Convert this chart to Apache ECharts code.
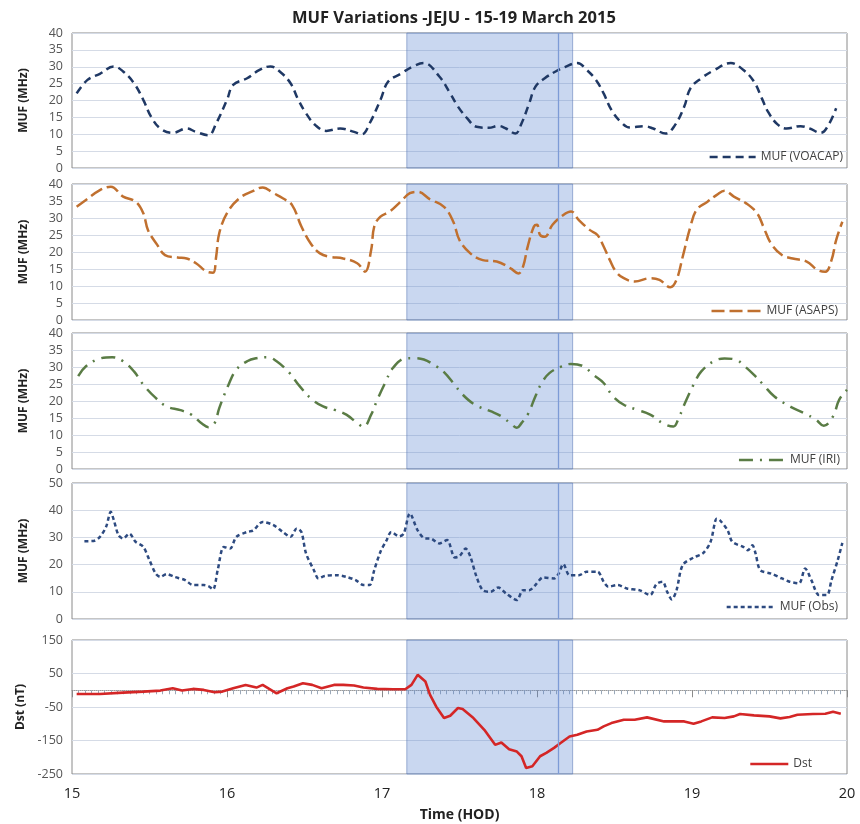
<!DOCTYPE html>
<html>
<head>
<meta charset="utf-8">
<script src="https://cdn.jsdelivr.net/npm/echarts@6/dist/echarts.min.js"></script>
<style>
  html, body { margin: 0; background: #fff; }
  #main { width: 860px; height: 824px; }
</style>
</head>
<body>
<div id="main"></div>
<script>
// time in day-of-month (HOD axis)
const voacapDay = [15.03,15.10,15.18,15.27,15.33,15.40,15.46,15.51,15.57,15.65,15.74,15.80,15.88,15.93,16.00,16.04,16.13,16.21,16.28,16.34,
  16.41,16.46,16.51,16.57,16.64,16.73,16.82,16.87,16.92,16.99,17.04,17.12,17.20,17.27,17.37,17.44,17.49,17.55,17.61,17.69,
  17.75,17.80,17.86,17.90,17.95,17.99,18.05,18.12,18.18,18.26,18.32,18.38,18.43,18.48,18.54,18.60,18.69,18.75,18.83,18.89,
  18.95,18.99,19.06,19.14,19.25,19.33,19.40,19.45,19.49,19.55,19.61,19.70,19.76,19.83,19.88,19.93];
const voacapMuf = [22.1,26.1,27.9,30.1,28.6,25.1,20.2,15.2,11.7,10.4,11.7,10.7,9.7,13.2,20.2,24.6,26.6,29.1,30.1,28.6,
  25.1,20.2,16.2,12.7,11.0,11.7,10.7,10.0,13.2,20.2,25.6,27.9,30.1,31.1,27.1,22.1,18.2,14.7,12.2,11.9,
  12.5,11.7,10.2,13.2,19.2,24.1,26.6,28.6,29.9,31.1,29.1,26.1,22.1,17.2,13.7,12.0,12.4,11.7,10.2,12.7,
  18.2,23.6,26.6,28.9,31.1,29.1,25.6,20.7,16.7,13.0,11.7,12.4,11.7,10.4,12.7,17.7];

const asapsDay = [15.03,15.09,15.18,15.25,15.33,15.41,15.46,15.49,15.55,15.60,15.68,15.74,15.80,15.87,15.91,15.93,15.95,16.00,16.08,16.17,
  16.23,16.30,16.36,16.42,16.48,16.54,16.60,16.66,16.75,16.84,16.89,16.93,16.95,16.99,17.05,17.12,17.18,17.23,17.31,17.40,
  17.46,17.50,17.57,17.65,17.74,17.83,17.88,17.91,17.94,17.98,18.00,18.02,18.05,18.10,18.17,18.22,18.27,18.34,18.39,18.43,
  18.47,18.51,18.56,18.63,18.73,18.79,18.86,18.90,18.94,18.99,19.03,19.10,19.16,19.21,19.27,19.35,19.42,19.46,19.51,19.58,
  19.65,19.74,19.81,19.86,19.90,19.93,19.97];
const asapsMuf = [33.3,35.3,38.2,39.2,36.3,34.8,31.4,26.5,22.1,19.1,18.4,18.1,16.7,14.2,13.9,18.6,25.5,31.4,35.8,38.0,
  39.0,37.3,35.8,33.8,27.5,22.5,19.6,18.6,18.1,16.7,14.2,20.6,27.5,30.4,31.9,34.8,37.3,37.7,35.5,33.3,
  28.9,23.5,19.6,17.6,17.2,15.2,13.7,15.7,21.6,27.5,28.0,25.0,24.5,28.0,30.9,31.9,29.4,26.5,25.0,21.6,
  17.6,14.2,12.3,11.3,12.3,11.8,9.6,11.8,18.6,27.5,32.4,34.8,36.8,38.0,36.3,34.3,31.4,27.5,22.5,19.1,
  18.1,17.2,14.7,14.2,17.6,23.5,28.9];

const iriDay = [15.04,15.09,15.18,15.26,15.33,15.40,15.46,15.54,15.61,15.70,15.77,15.84,15.88,15.92,15.95,16.01,16.06,16.13,16.19,16.26,
  16.32,16.40,16.47,16.55,16.62,16.70,16.77,16.84,16.88,16.93,16.97,17.02,17.07,17.15,17.20,17.27,17.35,17.40,17.46,17.52,
  17.60,17.70,17.77,17.84,17.87,17.90,17.94,17.99,18.03,18.08,18.16,18.22,18.30,18.36,18.43,18.49,18.56,18.64,18.73,18.81,
  18.88,18.91,18.95,19.01,19.06,19.14,19.21,19.28,19.34,19.40,19.46,19.53,19.64,19.72,19.80,19.85,19.91,19.95,20.00];
const iriMuf = [27.3,30.2,32.5,32.9,31.7,28.7,24.8,20.9,18.4,17.3,16.0,13.3,12.3,13.5,17.9,24.8,29.2,31.7,32.6,32.9,
  31.7,28.4,24.3,20.4,18.4,17.3,16.0,13.5,12.4,16.0,20.4,25.3,29.7,32.5,32.6,32.2,30.2,28.5,25.3,21.9,
  18.9,17.0,15.5,13.0,12.1,13.5,16.0,21.4,25.3,28.2,30.2,30.9,30.2,27.8,25.3,21.4,18.9,17.5,16.0,13.5,
  12.5,14.5,18.9,24.8,28.7,31.7,32.5,32.2,30.2,27.7,24.8,21.4,18.2,16.5,14.5,12.7,15.5,20.4,23.3];

const obsDay = [15.08,15.14,15.18,15.22,15.25,15.27,15.30,15.33,15.37,15.41,15.46,15.50,15.54,15.57,15.61,15.66,15.73,15.78,15.85,15.88,
  15.91,15.94,15.98,16.02,16.06,16.13,16.17,16.23,16.30,16.36,16.41,16.45,16.48,16.51,16.56,16.59,16.63,16.71,16.77,16.83,
  16.88,16.92,16.95,16.99,17.03,17.06,17.11,17.14,17.18,17.23,17.28,17.31,17.37,17.42,17.47,17.50,17.54,17.57,17.61,17.65,
  17.70,17.75,17.80,17.87,17.91,17.95,17.99,18.04,18.11,18.14,18.17,18.21,18.27,18.32,18.39,18.43,18.46,18.52,18.58,18.66,
  18.73,18.77,18.81,18.84,18.87,18.90,18.94,19.01,19.07,19.12,19.16,19.18,19.23,19.26,19.33,19.36,19.39,19.41,19.44,19.51,
  19.58,19.63,19.69,19.73,19.77,19.82,19.87,19.90,19.94,19.97];
const obsMuf = [28.6,28.7,30.2,33.9,39.4,36.3,30.8,29.6,31.4,28.4,26.5,21.6,16.7,15.5,16.5,15.5,14.3,12.5,12.5,12.1,
  10.9,18.0,26.5,25.9,30.2,32.0,32.6,35.7,34.5,32.0,30.2,33.3,32.0,24.1,18.0,14.9,15.8,16.1,15.5,14.3,
  12.5,12.5,18.0,24.7,29.0,32.0,30.4,31.4,38.8,32.6,29.6,29.6,27.8,29.0,22.6,23.1,25.9,22.9,15.5,10.6,
  10.0,11.6,9.4,7.0,10.6,10.6,12.5,15.3,14.9,16.7,20.2,16.1,16.1,17.4,17.4,13.7,11.9,12.5,11.2,10.6,
  8.8,12.8,13.7,10.0,7.2,10.6,19.8,22.6,24.1,28.4,36.9,36.3,32.6,28.4,26.5,25.3,27.1,24.1,18.0,16.7,
  14.9,13.7,13.1,18.6,14.3,8.8,8.8,14.3,21.6,28.0];

const dstDay = [15.03,15.18,15.33,15.46,15.57,15.65,15.71,15.78,15.85,15.92,15.97,16.04,16.12,16.19,16.23,16.32,16.39,16.43,16.49,16.55,
  16.61,16.69,16.75,16.82,16.88,16.97,17.07,17.15,17.19,17.23,17.28,17.31,17.35,17.40,17.44,17.49,17.52,17.59,17.66,17.73,
  17.77,17.82,17.87,17.90,17.93,17.97,18.02,18.06,18.11,18.15,18.21,18.26,18.32,18.39,18.43,18.48,18.56,18.63,18.71,18.82,
  18.95,19.01,19.06,19.13,19.21,19.27,19.31,19.40,19.50,19.57,19.63,19.68,19.78,19.86,19.91,19.96];
const dstVal = [-11,-11,-7,-4,-1,6,-1,4,1,-6,-4,6,16,8,16,-9,6,11,21,16,
  6,16,16,14,8,4,3,3,16,46,26,-14,-49,-83,-76,-53,-56,-83,-118,-163,
  -156,-176,-183,-197,-232,-227,-197,-187,-172,-158,-138,-133,-123,-118,-108,-98,-88,-88,-81,-93,
  -93,-100,-93,-81,-83,-78,-71,-75,-78,-84,-80,-73,-71,-70,-64,-70];

const dayTicks = [15, 16, 17, 18, 19, 20];
const stormSpan = [17.16, 18.23];
const stormMark = 18.135;

const panelNames = ['MUF (VOACAP)', 'MUF (ASAPS)', 'MUF (IRI)', 'MUF (Obs)', 'Dst'];
const yMax = [40, 40, 40, 50, 150];
const yMin = [0, 0, 0, 0, -250];
const yStep = [5, 5, 5, 10, 100];

function zip(a, b) { return a.map((d, i) => [d, b[i]]); }

const tops = [33, 184, 333, 483, 640];
const heights = [135, 136, 136, 136, 134];
const font = '"Open Sans", Lato, sans-serif';

const grids = tops.map((t, i) => ({
  left: 72, right: 13, top: t, height: heights[i],
  show: true, borderColor: '#8a8a8a', borderWidth: 1, backgroundColor: 'transparent'
}));

const xAxes = tops.map((t, i) => ({
  type: 'value', gridIndex: i, min: dayTicks[0], max: dayTicks[dayTicks.length - 1], interval: 1,
  axisLine: { show: false, onZero: false }, axisTick: { show: false }, splitLine: { show: false },
  axisLabel: { show: i === 4, fontSize: 14.5, color: '#222', margin: 12, fontFamily: font },
  name: i === 4 ? 'Time (HOD)' : '', nameLocation: 'middle', nameGap: 34,
  nameTextStyle: { fontWeight: 'bold', fontSize: 14, color: '#222', fontFamily: font }
}));
// dotted zero line with hour ticks in the Dst panel
xAxes.push({
  type: 'value', gridIndex: 4, position: 'top', min: 15, max: 20, interval: 1,
  axisLine: { show: true, onZero: true, lineStyle: { color: '#9a9a9a', type: 'dotted', width: 1 } },
  axisTick: { show: true, inside: true, length: 7, lineStyle: { color: '#8a8a8a' } },
  minorTick: { show: true, splitNumber: 24, length: 4, lineStyle: { color: '#9aa8b8' } },
  axisLabel: { show: false }, splitLine: { show: false }
});

const yAxes = tops.map((t, i) => ({
  type: 'value', gridIndex: i, min: yMin[i], max: yMax[i], interval: yStep[i],
  axisLine: { show: false }, axisTick: { show: false },
  splitLine: { show: true, lineStyle: { color: '#d5dbe6', width: 1 } },
  axisLabel: { fontSize: 12.5, color: '#555', margin: 9, fontFamily: font },
  name: i === 4 ? 'Dst (nT)' : 'MUF (MHz)', nameLocation: 'middle', nameGap: 42,
  nameTextStyle: { fontWeight: 'bold', fontSize: 12, color: '#222', fontFamily: font }
}));

const shade = {
  silent: true,
  itemStyle: { color: 'rgba(90,135,210,0.33)', borderColor: 'rgba(90,120,180,0.55)', borderWidth: 1 },
  data: [[{ xAxis: stormSpan[0] }, { xAxis: stormSpan[1] }]]
};
const vline = {
  silent: true, symbol: 'none', label: { show: false },
  lineStyle: { color: '#7d9bd6', type: 'solid', width: 1.3 },
  data: [{ xAxis: stormMark }]
};

const styles = [
  { color: '#1f3864', type: [8, 5], smooth: 0.4, data: zip(voacapDay, voacapMuf) },
  { color: '#c0702f', type: [13, 5], smooth: 0.4, data: zip(asapsDay, asapsMuf) },
  { color: '#5a7c45', type: [14, 7, 2, 7], smooth: 0.4, data: zip(iriDay, iriMuf) },
  { color: '#2d4a80', type: [4, 3], smooth: 0.3, data: zip(obsDay, obsMuf) },
  { color: '#d42626', type: 'solid', smooth: false, data: zip(dstDay, dstVal) }
];

const series = styles.map((s, i) => ({
  name: panelNames[i], type: 'line', xAxisIndex: i, yAxisIndex: i,
  data: s.data, smooth: s.smooth, symbol: 'none', z: 3,
  lineStyle: { color: s.color, width: i === 4 ? 2.6 : 2.5, type: s.type },
  itemStyle: { color: s.color },
  markArea: shade, markLine: vline
}));

const legendTop = [151, 305, 454, 601, 758];
const legendRight = [17, 22, 20, 22, 48];
const legendIcon = [46, 50, 46, 48, 38];
const legends = panelNames.map((n, i) => ({
  data: [n], top: legendTop[i], right: legendRight[i], padding: 0,
  itemWidth: legendIcon[i], itemHeight: 10, selectedMode: false,
  itemStyle: { opacity: 0, color: 'transparent', borderWidth: 0 },
  lineStyle: { width: 2.5 },
  textStyle: { fontSize: 12, color: '#404040', fontFamily: font }
}));

const chart = echarts.init(document.getElementById('main'), null, { renderer: 'canvas' });
chart.setOption({
  backgroundColor: '#fff',
  animation: false,
  title: {
    text: 'MUF Variations -JEJU - 15-19 March 2015', left: 287, top: 5,
    textStyle: { fontSize: 16.5, fontWeight: 'bold', color: '#222', fontFamily: font }
  },
  legend: legends,
  grid: grids,
  xAxis: xAxes,
  yAxis: yAxes,
  series: series
});
</script>
</body>
</html>
